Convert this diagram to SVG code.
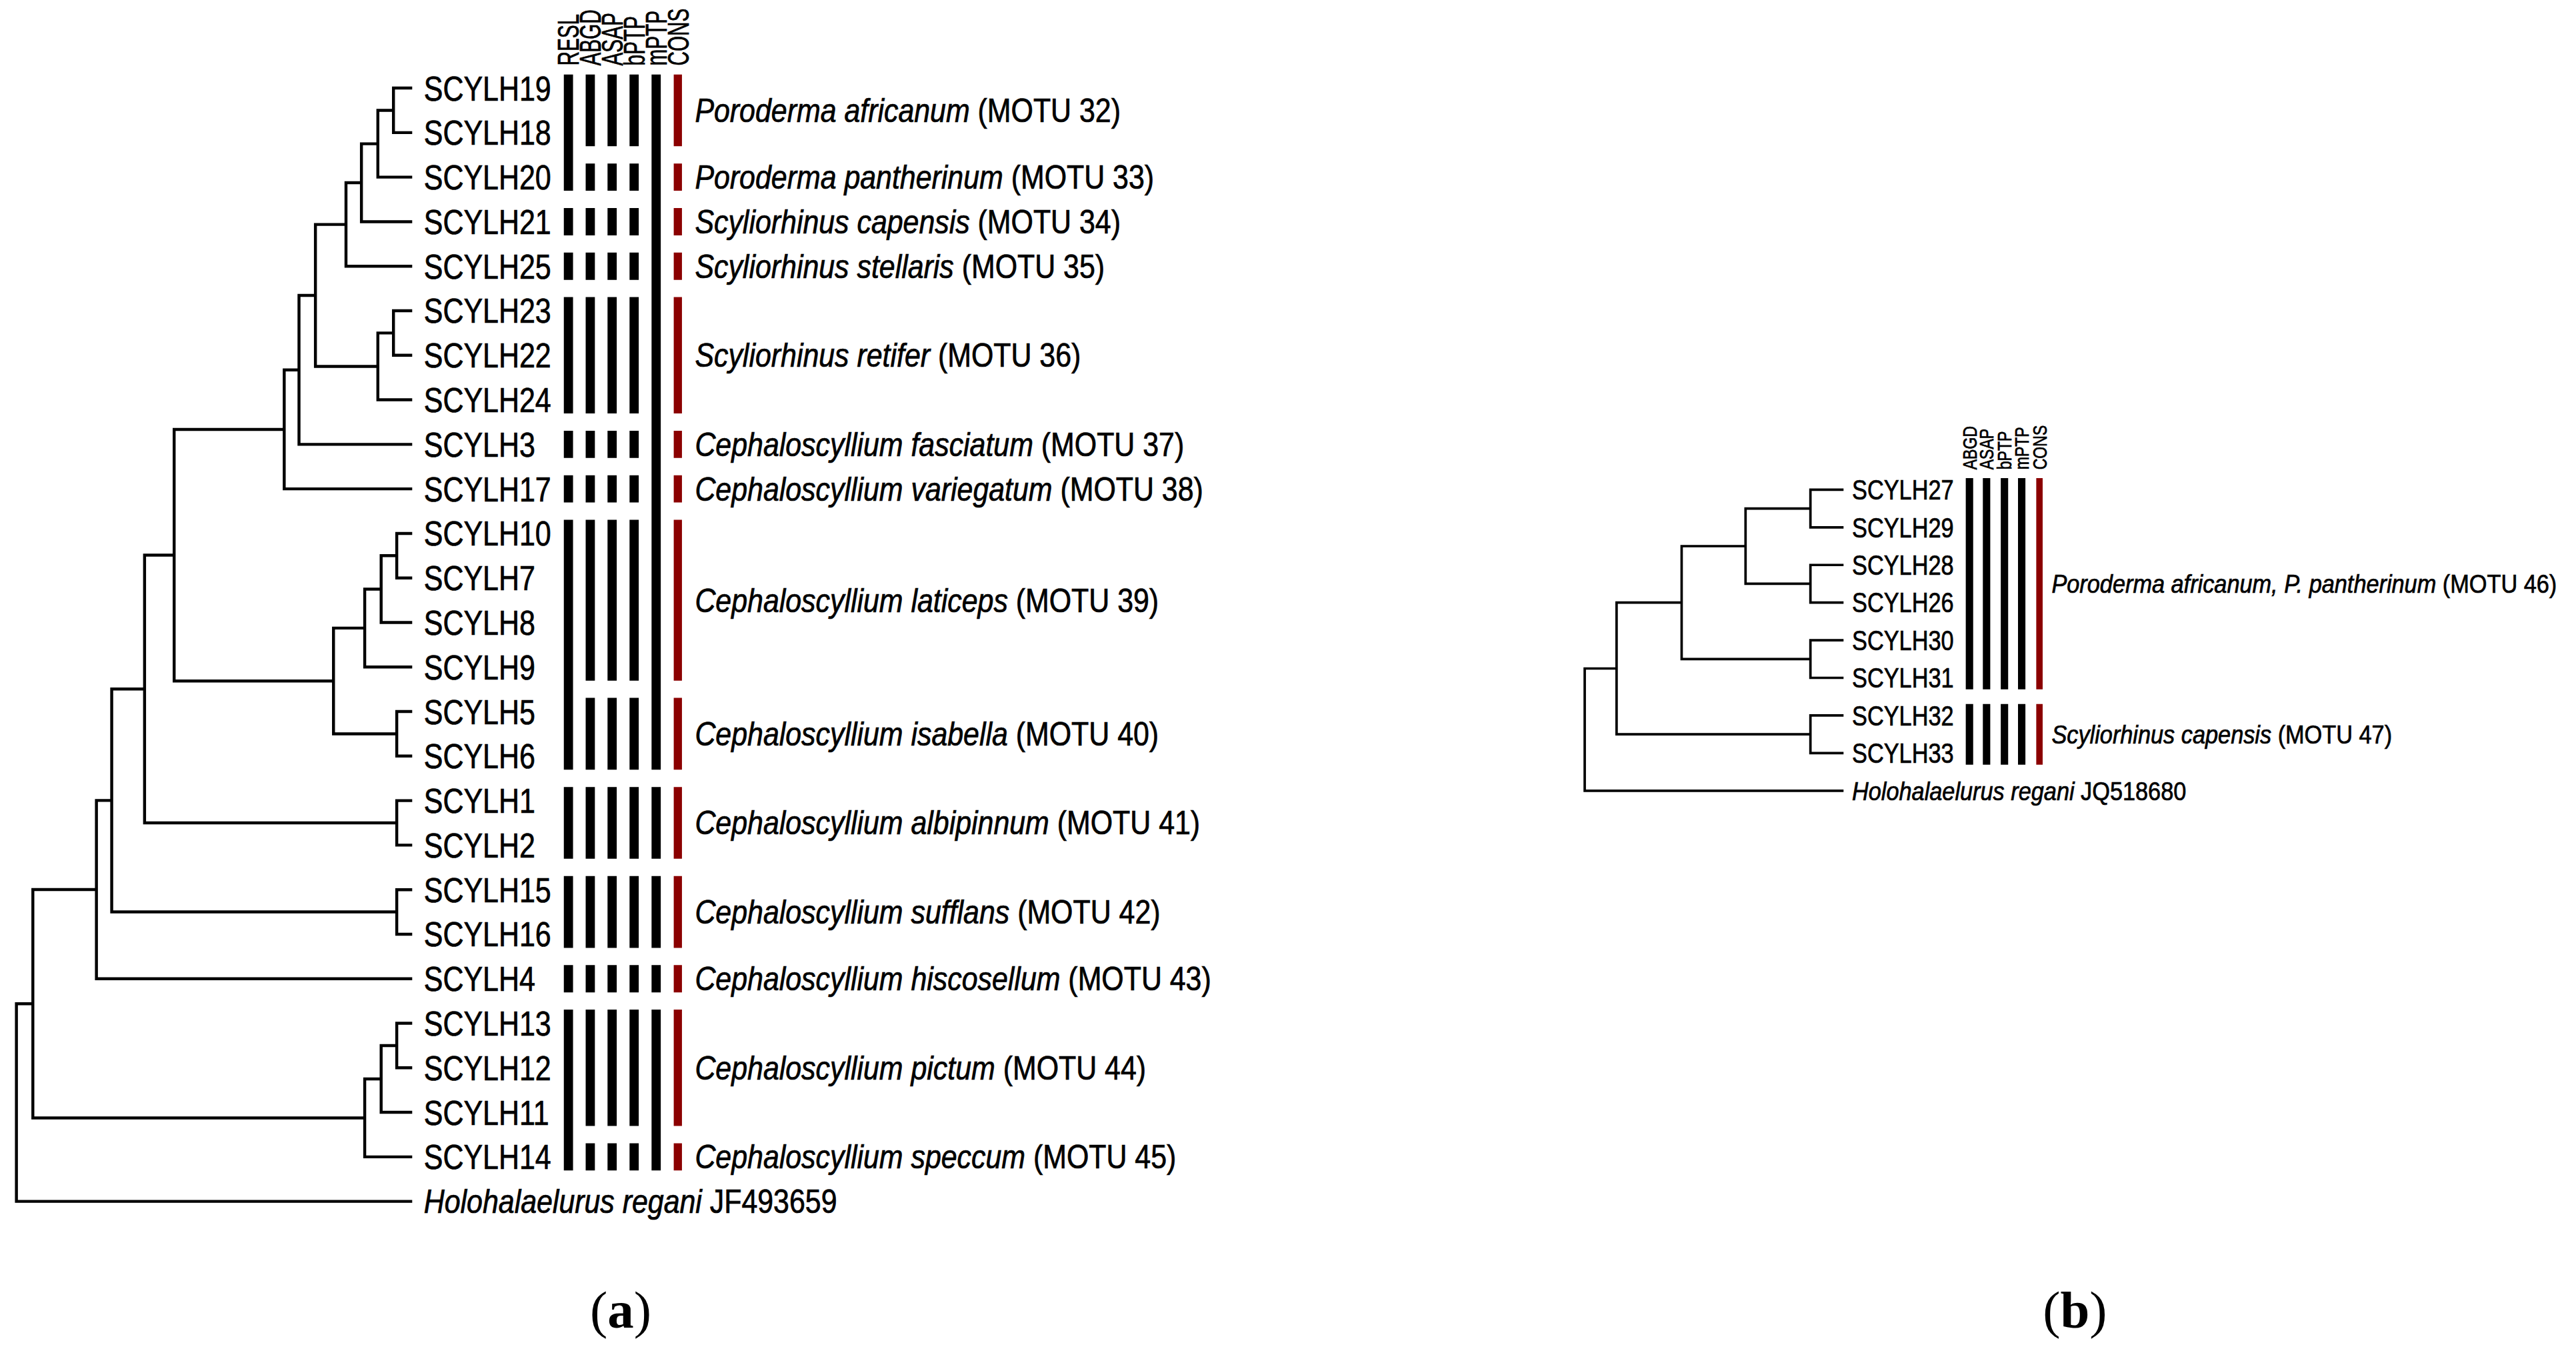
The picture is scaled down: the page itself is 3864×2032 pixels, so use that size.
<svg xmlns="http://www.w3.org/2000/svg" xmlns:xlink="http://www.w3.org/1999/xlink" width="3864" height="2032" viewBox="0 0 3864 2032">
<style>
.br{fill:none;stroke:#000;stroke-linecap:square}
.lab{font-family:"Liberation Sans",Arial,sans-serif;fill:#000;stroke:#000;stroke-width:0.3}
.hd{font-family:"Liberation Sans",Arial,sans-serif;fill:#000;stroke:#000;stroke-width:0.3}
.it{font-style:italic}
.blk{fill:none;stroke:#000}
.red{fill:none;stroke:#8B0000}
.cap{font-family:"Liberation Serif","Times New Roman",serif;fill:#000;text-anchor:middle}
</style>
<defs>
<path id="segA" d="M0 45.3V89M0 99.5V116.1M0 126.6V143.2M0 153.7V170.3M0 180.8V251.6M0 262.1V278.7M0 289.2V305.8M0 316.3V414.2M0 424.7V468.4M0 478.9V522.6M0 533.1V576.8M0 587.3V603.9M0 614.4V685.2M0 695.7V712.3"/>
<path id="segR" d="M0 45.3V116.1M0 126.6V143.2M0 153.7V170.3M0 180.8V251.6M0 262.1V278.7M0 289.2V305.8M0 316.3V468.4M0 478.9V522.6M0 533.1V576.8M0 587.3V603.9M0 614.4V712.3"/>
<path id="segM" d="M0 45.3V468.4M0 478.9V522.6M0 533.1V576.8M0 587.3V603.9M0 614.4V712.3"/>
<path id="segB" d="M0 291V419.5M0 428.4V465.3"/>
</defs>
<rect width="3864" height="2032" fill="#fff"/>
<g transform="scale(2.4643)">
<g id="connectors">
<path id="tree-a" class="br" stroke-width="1.8" d="M239.5 53.6V80.7M230 67.15V107.8M220 87.5V134.9M210.6 111.2V162M239.5 189.1V216.2M230 202.65V243.3M192 136.6V223M182 179.8V270.4M173 225.1V297.5M241.5 324.6V351.7M232 338.15V378.8M222 358.5V405.9M241.5 433V460.1M203 382.2V446.55M106 261.3V414.4M241.5 487.2V514.3M88 337.85V500.75M241.5 541.4V568.5M68 419.3V554.95M58.7 487.1V595.6M241.5 622.7V649.8M232 636.25V676.9M222 656.6V704M20 541.35V680.3M10 610.8V731.1
M239.5 53.6H250M239.5 80.7H250M230 107.8H250M220 134.9H250M210.6 162H250M239.5 189.1H250M239.5 216.2H250M230 243.3H250M182 270.4H250M173 297.5H250M241.5 324.6H250M241.5 351.7H250M232 378.8H250M222 405.9H250M241.5 433H250M241.5 460.1H250M241.5 487.2H250M241.5 514.3H250M241.5 541.4H250M241.5 568.5H250M58.7 595.6H250M241.5 622.7H250M241.5 649.8H250M232 676.9H250M222 704H250M10 731.1H250
M230 67.15H239.5M220 87.5H230M210.6 111.2H220M192 136.6H210.6M230 202.65H239.5M192 223H230M182 179.8H192M173 225.1H182M106 261.3H173M232 338.15H241.5M222 358.5H232M203 382.2H222M203 446.55H241.5M106 414.4H203M88 337.85H106M88 500.75H241.5M68 419.3H88M68 554.95H241.5M58.7 487.1H68M20 541.35H58.7M232 636.25H241.5M222 656.6H232M20 680.3H222M10 610.8H20"/>
<path id="tree-b" class="br" stroke-width="1.5" d="M1102 298V320.9M1102 343.8V366.7M1102 389.6V412.5M1102 435.4V458.3M1062.5 309.45V355.25M1023.6 332.35V401.05M984 366.7V446.85M964.6 406.8V481.2
M1102 298H1121.4M1102 320.9H1121.4M1102 343.8H1121.4M1102 366.7H1121.4M1102 389.6H1121.4M1102 412.5H1121.4M1102 435.4H1121.4M1102 458.3H1121.4M964.6 481.2H1121.4
M1062.5 309.45H1102M1062.5 355.25H1102M1023.6 332.35H1062.5M1023.6 401.05H1102M984 366.7H1023.6M984 446.85H1102M964.6 406.8H984"/>
</g>
<g id="bars-a">
<use xlink:href="#segR" x="346" class="blk" stroke-width="5.6"/>
<use xlink:href="#segA" x="359.3" class="blk" stroke-width="5.6"/>
<use xlink:href="#segA" x="372.6" class="blk" stroke-width="5.6"/>
<use xlink:href="#segA" x="386" class="blk" stroke-width="5.6"/>
<use xlink:href="#segM" x="399.4" class="blk" stroke-width="5.6"/>
<use xlink:href="#segA" x="412.6" class="red" stroke-width="5"/>
</g>
<g id="bars-b">
<use xlink:href="#segB" x="1198.8" class="blk" stroke-width="4.5"/>
<use xlink:href="#segB" x="1209.2" class="blk" stroke-width="4.5"/>
<use xlink:href="#segB" x="1220.1" class="blk" stroke-width="4.5"/>
<use xlink:href="#segB" x="1230.6" class="blk" stroke-width="4.5"/>
<use xlink:href="#segB" x="1241.4" class="red" stroke-width="3.9"/>
</g>
<g id="headers-a" class="hd" font-size="18">
<text transform="translate(352.4 40) rotate(-90) scale(0.67 1)">RESL</text>
<text transform="translate(365.7 40) rotate(-90) scale(0.67 1)">ABGD</text>
<text transform="translate(379 40) rotate(-90) scale(0.67 1)">ASAP</text>
<text transform="translate(392.4 40) rotate(-90) scale(0.67 1)">bPTP</text>
<text transform="translate(405.8 40) rotate(-90) scale(0.67 1)">mPTP</text>
<text transform="translate(419 40) rotate(-90) scale(0.67 1)">CONS</text>
</g>
<g id="headers-b" class="hd" font-size="12">
<text transform="translate(1203 285.8) rotate(-90) scale(0.78 1)">ABGD</text>
<text transform="translate(1213.4 285.8) rotate(-90) scale(0.78 1)">ASAP</text>
<text transform="translate(1224.3 285.8) rotate(-90) scale(0.78 1)">bPTP</text>
<text transform="translate(1234.8 285.8) rotate(-90) scale(0.78 1)">mPTP</text>
<text transform="translate(1245.6 285.8) rotate(-90) scale(0.78 1)">CONS</text>
</g>
<g id="leaves-a" class="lab" font-size="21">
<text transform="translate(258 61.1) scale(0.83 1)">SCYLH19</text>
<text transform="translate(258 88.2) scale(0.83 1)">SCYLH18</text>
<text transform="translate(258 115.3) scale(0.83 1)">SCYLH20</text>
<text transform="translate(258 142.4) scale(0.83 1)">SCYLH21</text>
<text transform="translate(258 169.5) scale(0.83 1)">SCYLH25</text>
<text transform="translate(258 196.6) scale(0.83 1)">SCYLH23</text>
<text transform="translate(258 223.7) scale(0.83 1)">SCYLH22</text>
<text transform="translate(258 250.8) scale(0.83 1)">SCYLH24</text>
<text transform="translate(258 277.9) scale(0.83 1)">SCYLH3</text>
<text transform="translate(258 305) scale(0.83 1)">SCYLH17</text>
<text transform="translate(258 332.1) scale(0.83 1)">SCYLH10</text>
<text transform="translate(258 359.2) scale(0.83 1)">SCYLH7</text>
<text transform="translate(258 386.3) scale(0.83 1)">SCYLH8</text>
<text transform="translate(258 413.4) scale(0.83 1)">SCYLH9</text>
<text transform="translate(258 440.5) scale(0.83 1)">SCYLH5</text>
<text transform="translate(258 467.6) scale(0.83 1)">SCYLH6</text>
<text transform="translate(258 494.7) scale(0.83 1)">SCYLH1</text>
<text transform="translate(258 521.8) scale(0.83 1)">SCYLH2</text>
<text transform="translate(258 548.9) scale(0.83 1)">SCYLH15</text>
<text transform="translate(258 576) scale(0.83 1)">SCYLH16</text>
<text transform="translate(258 603.1) scale(0.83 1)">SCYLH4</text>
<text transform="translate(258 630.2) scale(0.83 1)">SCYLH13</text>
<text transform="translate(258 657.3) scale(0.83 1)">SCYLH12</text>
<text transform="translate(258 684.4) scale(0.83 1)">SCYLH11</text>
<text transform="translate(258 711.5) scale(0.83 1)">SCYLH14</text>
</g>
<g id="outgroup-a" class="lab" font-size="20">
<text transform="translate(258 738.2) scale(0.87 1)"><tspan class="it">Holohalaelurus regani</tspan> JF493659</text>
</g>
<g id="species-a" class="lab" font-size="20">
<text transform="translate(423 74.25) scale(0.87 1)"><tspan class="it">Poroderma africanum</tspan> (MOTU 32)</text>
<text transform="translate(423 114.9) scale(0.87 1)"><tspan class="it">Poroderma pantherinum</tspan> (MOTU 33)</text>
<text transform="translate(423 142) scale(0.87 1)"><tspan class="it">Scyliorhinus capensis</tspan> (MOTU 34)</text>
<text transform="translate(423 169.1) scale(0.87 1)"><tspan class="it">Scyliorhinus stellaris</tspan> (MOTU 35)</text>
<text transform="translate(423 223.3) scale(0.87 1)"><tspan class="it">Scyliorhinus retifer</tspan> (MOTU 36)</text>
<text transform="translate(423 277.5) scale(0.87 1)"><tspan class="it">Cephaloscyllium fasciatum</tspan> (MOTU 37)</text>
<text transform="translate(423 304.6) scale(0.87 1)"><tspan class="it">Cephaloscyllium variegatum</tspan> (MOTU 38)</text>
<text transform="translate(423 372.35) scale(0.87 1)"><tspan class="it">Cephaloscyllium laticeps</tspan> (MOTU 39)</text>
<text transform="translate(423 453.65) scale(0.87 1)"><tspan class="it">Cephaloscyllium isabella</tspan> (MOTU 40)</text>
<text transform="translate(423 507.85) scale(0.87 1)"><tspan class="it">Cephaloscyllium albipinnum</tspan> (MOTU 41)</text>
<text transform="translate(423 562.05) scale(0.87 1)"><tspan class="it">Cephaloscyllium sufflans</tspan> (MOTU 42)</text>
<text transform="translate(423 602.7) scale(0.87 1)"><tspan class="it">Cephaloscyllium hiscosellum</tspan> (MOTU 43)</text>
<text transform="translate(423 656.9) scale(0.87 1)"><tspan class="it">Cephaloscyllium pictum</tspan> (MOTU 44)</text>
<text transform="translate(423 711.1) scale(0.87 1)"><tspan class="it">Cephaloscyllium speccum</tspan> (MOTU 45)</text>
</g>
<g id="leaves-b" class="lab" font-size="17">
<text transform="translate(1127.3 304) scale(0.82 1)">SCYLH27</text>
<text transform="translate(1127.3 326.9) scale(0.82 1)">SCYLH29</text>
<text transform="translate(1127.3 349.8) scale(0.82 1)">SCYLH28</text>
<text transform="translate(1127.3 372.7) scale(0.82 1)">SCYLH26</text>
<text transform="translate(1127.3 395.6) scale(0.82 1)">SCYLH30</text>
<text transform="translate(1127.3 418.5) scale(0.82 1)">SCYLH31</text>
<text transform="translate(1127.3 441.4) scale(0.82 1)">SCYLH32</text>
<text transform="translate(1127.3 464.3) scale(0.82 1)">SCYLH33</text>
</g>
<g id="outgroup-b" class="lab" font-size="16">
<text transform="translate(1127.3 486.9) scale(0.87 1)"><tspan class="it">Holohalaelurus regani</tspan> JQ518680</text>
</g>
<g id="species-b" class="lab" font-size="16">
<text transform="translate(1248.8 360.95) scale(0.87 1)"><tspan class="it">Poroderma africanum, P. pantherinum</tspan> (MOTU 46)</text>
<text transform="translate(1248.8 452.55) scale(0.87 1)"><tspan class="it">Scyliorhinus capensis</tspan> (MOTU 47)</text>
</g>
<g id="captions">
<text class="cap" x="377.8" y="808" font-size="32">(<tspan font-weight="bold">a</tspan>)</text>
<text class="cap" x="1263" y="808" font-size="32">(<tspan font-weight="bold">b</tspan>)</text>
</g>
</g>
</svg>
